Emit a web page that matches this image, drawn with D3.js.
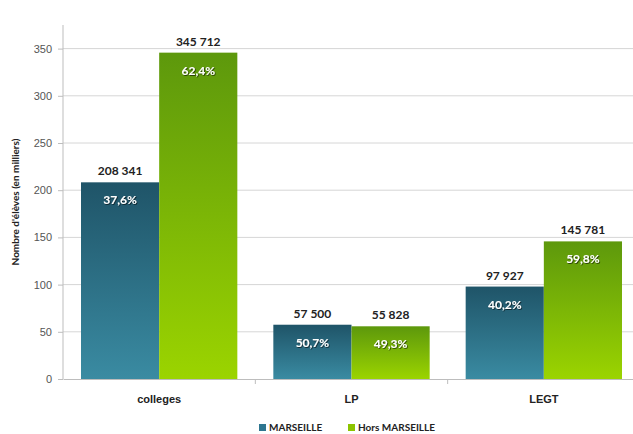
<!DOCTYPE html>
<html>
<head>
<meta charset="utf-8">
<script src="https://cdn.jsdelivr.net/npm/d3@7"></script>
<style>
  body { margin: 0; background: #fff; }
  svg { font-family: Lato, "Open Sans", sans-serif; }
</style>
</head>
<body>
<svg id="canvas" width="633" height="434"></svg>
<script>
var categories = ["colleges", "LP", "LEGT"];
var seriesNames = ["MARSEILLE", "Hors MARSEILLE"];
var marseille = [208.341, 57.5, 97.927];
var horsMarseille = [345.712, 55.828, 145.781];
var valueLabels = [["208 341", "57 500", "97 927"], ["345 712", "55 828", "145 781"]];
var pctLabels = [["37,6%", "50,7%", "40,2%"], ["62,4%", "49,3%", "59,8%"]];
var yTicks = [0, 50, 100, 150, 200, 250, 300, 350];

var margin = {top: 25, right: 0, bottom: 55, left: 63};
var width = 640 - margin.left;
var height = 434 - margin.top - margin.bottom;

var svg = d3.select("#canvas");

var defs = svg.append("defs");
var grads = [["gBlue", "#1f5468", "#3a8ba2"], ["gGreen", "#5d980c", "#9bd400"]];
grads.forEach(function(g) {
  var lg = defs.append("linearGradient").attr("id", g[0])
    .attr("x1", 0).attr("y1", 0).attr("x2", 0).attr("y2", 1);
  lg.append("stop").attr("offset", "0%").attr("stop-color", g[1]);
  lg.append("stop").attr("offset", "100%").attr("stop-color", g[2]);
});
var shadow = defs.append("filter").attr("id", "tshadow");
shadow.append("feDropShadow").attr("dx", 0.8).attr("dy", 0.8)
  .attr("stdDeviation", 0.6).attr("flood-color", "#000").attr("flood-opacity", 0.7);

var g = svg.append("g").attr("transform", "translate(" + margin.left + "," + margin.top + ")");

var x0 = d3.scaleBand().domain(categories).range([0, width]).paddingInner(0).paddingOuter(0);
var x1 = d3.scaleBand().domain([0, 1]).range([18, x0.bandwidth() - 18]);
var y = d3.scaleLinear().domain([0, 375]).range([height, 0]);

// gridlines
g.selectAll(".grid").data(yTicks.slice(1)).enter().append("line")
  .attr("x1", 0).attr("x2", width)
  .attr("y1", function(d) { return y(d); }).attr("y2", function(d) { return y(d); })
  .attr("stroke", "#d6d6d6").attr("stroke-width", 1);

// y axis
var yAxis = d3.axisLeft(y).tickValues(yTicks).tickSize(5).tickPadding(6);
var ya = g.append("g").call(yAxis);
ya.select(".domain").attr("stroke", "#bdbdbd").attr("d", "M0," + height + "V0");
ya.selectAll(".tick line").attr("stroke", "#bdbdbd");
ya.selectAll("text").attr("fill", "#555").style("font-size", "11px");

// x axis
var xAxis = d3.axisBottom(x0).tickSize(0).tickPadding(16);
var xa = g.append("g").attr("transform", "translate(0," + height + ")").call(xAxis);
xa.select(".domain").attr("stroke", "#bdbdbd");
xa.selectAll("text").attr("fill", "#222").style("font-size", "11px").style("font-weight", "bold");
g.selectAll(".xsep").data(categories.slice(1)).enter().append("line")
  .attr("x1", function(d) { return x0(d); }).attr("x2", function(d) { return x0(d); })
  .attr("y1", height).attr("y2", height + 5).attr("stroke", "#bdbdbd");

var series = [marseille, horsMarseille];
var fills = ["url(#gBlue)", "url(#gGreen)"];

series.forEach(function(vals, s) {
  var grp = g.append("g");
  grp.selectAll("rect").data(vals).enter().append("rect")
    .attr("x", function(d, i) { return x0(categories[i]) + x1(s); })
    .attr("y", function(d) { return y(d); })
    .attr("width", x1.bandwidth())
    .attr("height", function(d) { return height - y(d); })
    .attr("fill", fills[s]);
  grp.selectAll(".val").data(vals).enter().append("text")
    .attr("x", function(d, i) { return x0(categories[i]) + x1(s) + x1.bandwidth() / 2; })
    .attr("y", function(d) { return y(d) - 7; })
    .attr("text-anchor", "middle")
    .attr("fill", "#222").style("font-size", "12px").style("font-weight", "bold")
    .text(function(d, i) { return valueLabels[s][i]; });
  grp.selectAll(".pct").data(vals).enter().append("text")
    .attr("x", function(d, i) { return x0(categories[i]) + x1(s) + x1.bandwidth() / 2; })
    .attr("y", function(d) { return y(d) + 22; })
    .attr("text-anchor", "middle")
    .attr("fill", "#fff").attr("filter", "url(#tshadow)")
    .style("font-size", "12px").style("font-weight", "bold")
    .text(function(d, i) { return pctLabels[s][i]; });
});

// y title
svg.append("text")
  .attr("transform", "translate(19," + (margin.top + height / 2) + ") rotate(-90)")
  .attr("text-anchor", "middle")
  .attr("fill", "#222").style("font-size", "10px").style("font-weight", "bold")
  .text("Nombre d'élèves (en milliers)");

// legend
var legendX = [259, 348];
var legendColors = ["#2e7690", "#8cc400"];
seriesNames.forEach(function(name, i) {
  svg.append("rect").attr("x", legendX[i]).attr("y", 424).attr("width", 7).attr("height", 7)
    .attr("fill", legendColors[i]);
  svg.append("text").attr("x", legendX[i] + 10).attr("y", 431)
    .attr("fill", "#222").style("font-size", "10px").style("font-weight", "bold")
    .text(name);
});
</script>
</body>
</html>
